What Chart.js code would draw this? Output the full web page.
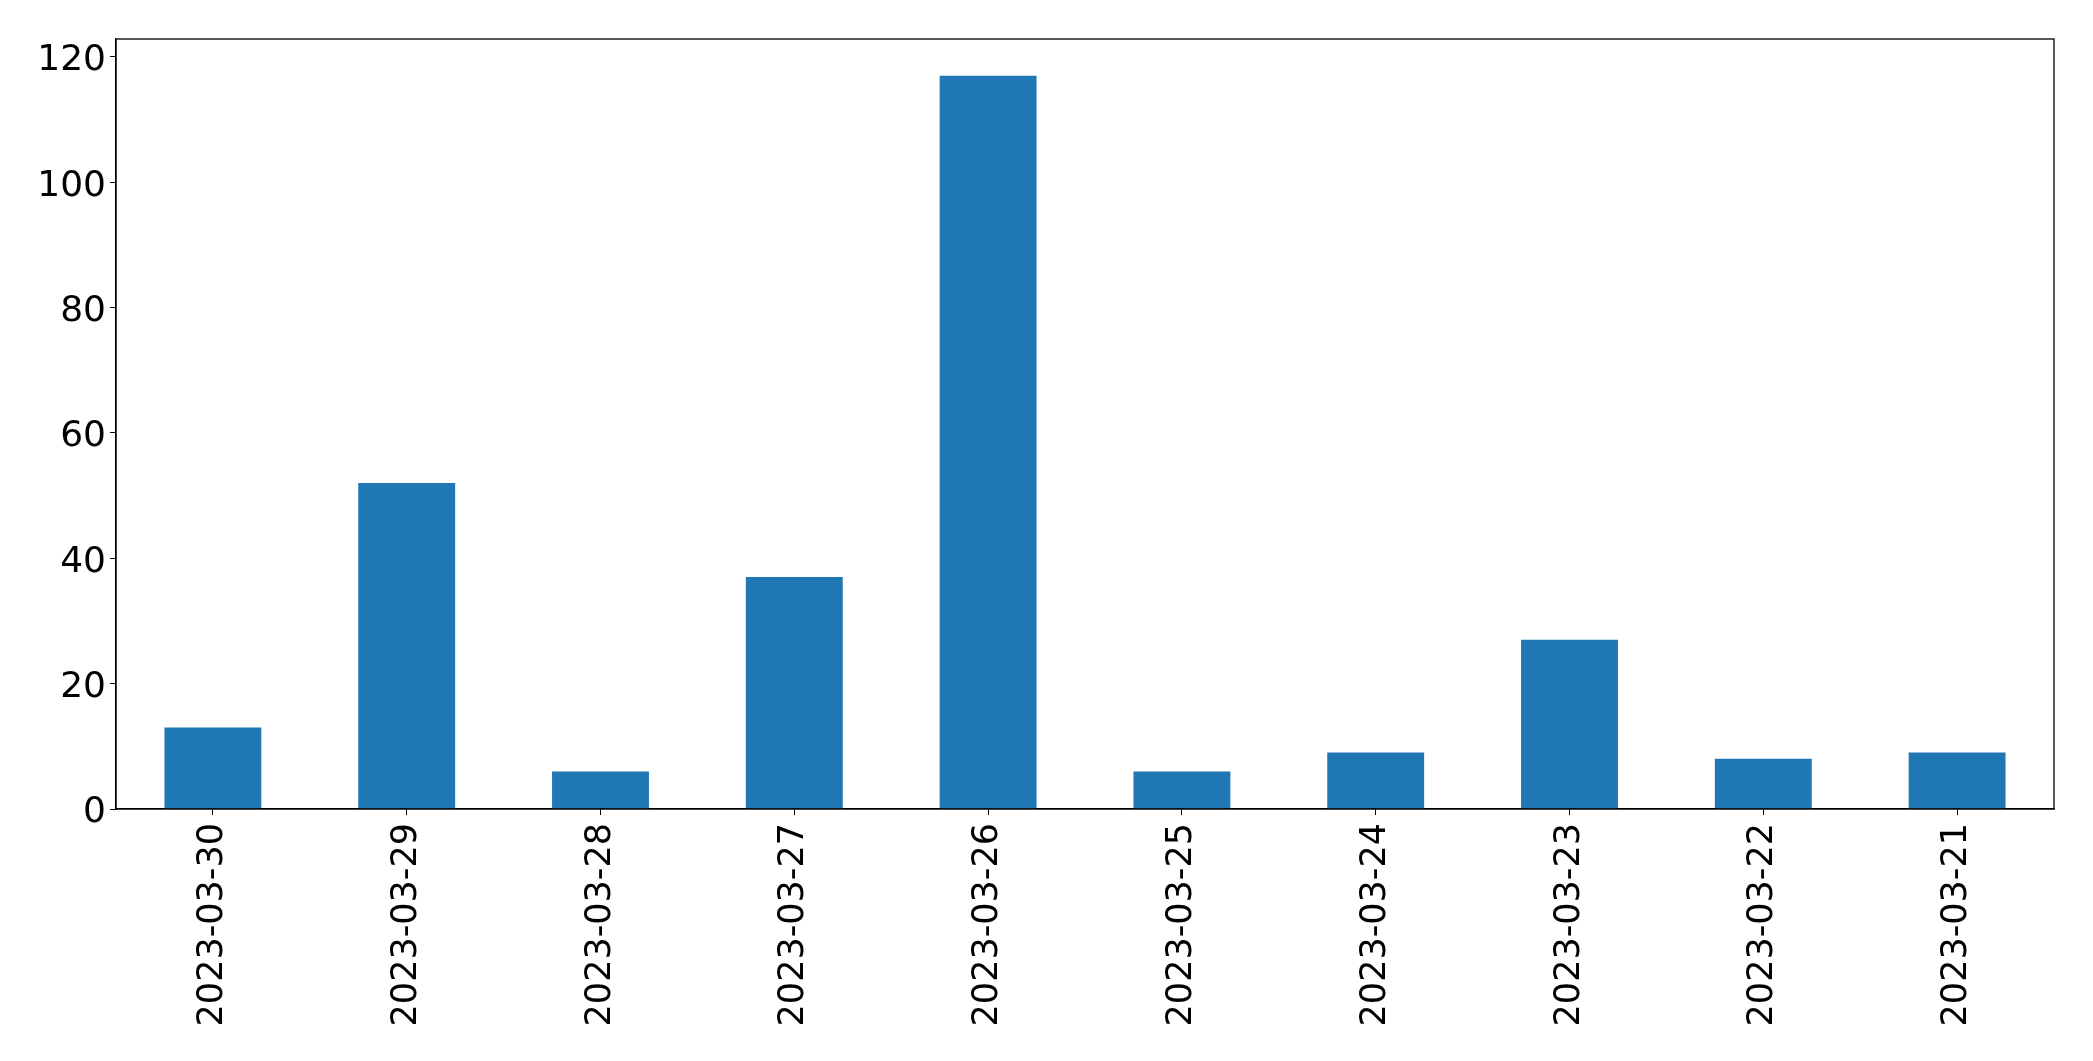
<!DOCTYPE html>
<html>
<head>
<meta charset="utf-8">
<script src="https://cdn.jsdelivr.net/npm/chart.js@4"></script>
<style>
  html, body { margin: 0; padding: 0; background: #fff; }
  #wrap { width: 2093px; height: 1061px; }
</style>
</head>
<body>
<div id="wrap"><canvas id="grafico" width="2093" height="1061"></canvas></div>
<script>
// datos
var fechas = ['2023-03-30', '2023-03-29', '2023-03-28', '2023-03-27', '2023-03-26',
              '2023-03-25', '2023-03-24', '2023-03-23', '2023-03-22', '2023-03-21'];
var valores = [13, 52, 6, 37, 117, 6, 9, 27, 8, 9];
var ticksY = [0, 20, 40, 60, 80, 100, 120];

// marco negro alrededor del area del grafico
var marco = {
  id: 'marco',
  afterDraw: function (chart) {
    var a = chart.chartArea, c = chart.ctx;
    c.save();
    c.strokeStyle = '#000';
    c.lineWidth = 1.3;
    c.strokeRect(a.left, a.top, a.right - a.left, a.bottom - a.top);
    c.restore();
  }
};

var ctx = document.getElementById('grafico').getContext('2d');
new Chart(ctx, {
  type: 'bar',
  data: {
    labels: fechas,
    datasets: [{
      data: valores,
      backgroundColor: '#1f77b4',
      barPercentage: 0.5,
      categoryPercentage: 1.0
    }]
  },
  options: {
    responsive: false,
    animation: false,
    layout: { padding: { left: 0, top: 39, right: 39, bottom: 0 } },
    plugins: { legend: { display: false }, tooltip: { enabled: false } },
    scales: {
      x: {
        grid: { offset: false, drawOnChartArea: false, drawTicks: true, tickLength: 6, color: '#000' },
        border: { display: true, color: '#000', width: 1.3 },
        ticks: {
          color: '#000',
          font: { family: 'DejaVu Sans', size: 35 },
          minRotation: 90, maxRotation: 90, padding: 8, autoSkip: false
        },
        afterFit: function (s) { s.height = 252; }
      },
      y: {
        min: 0,
        max: 122.85,
        afterBuildTicks: function (s) { s.ticks = ticksY.map(function (v) { return { value: v }; }); },
        grid: { drawOnChartArea: false, drawTicks: true, tickLength: 6, color: '#000' },
        border: { display: true, color: '#000', width: 1.3 },
        ticks: {
          color: '#000',
          font: { family: 'DejaVu Sans', size: 36 },
          padding: 4,
          labelOffset: 4
        },
        afterFit: function (s) { s.width = 116; }
      }
    }
  },
  plugins: [marco]
});
</script>
</body>
</html>
